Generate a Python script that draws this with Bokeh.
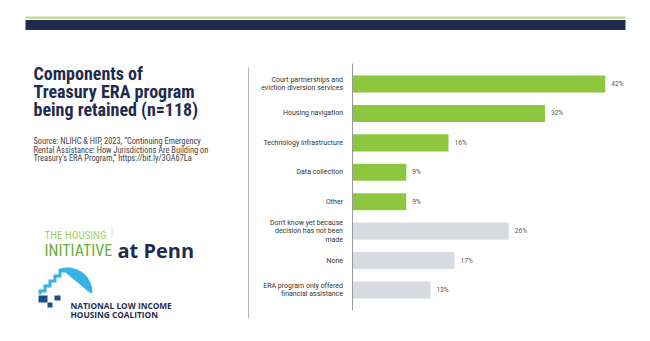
import numpy as np
from bokeh.plotting import figure
from bokeh.models import Range1d, LinearAxis, FixedTicker, ColumnDataSource
from bokeh.core.properties import value
from bokeh.embed import file_html
from bokeh.resources import INLINE

# ---------------- data ----------------
categories = [
    "Court partnerships and\neviction diversion services",
    "Housing navigation",
    "Technology infrastructure",
    "Data collection",
    "Other",
    "Don't know yet because\ndecision has not been\nmade",
    "None",
    "ERA program only offered\nfinancial assistance",
]
values = [42, 32, 16, 9, 9, 26, 17, 13]
groups = ["retained", "retained", "retained", "retained", "retained", "other", "other", "other"]
value_labels = ["42%", "32%", "16%", "9%", "9%", "26%", "17%", "13%"]

title_lines = ["Components of", "Treasury ERA program", "being retained (n=118)"]
source_lines = [
    "Source: NLIHC & HIP, 2023, \u201cContinuing Emergency",
    "Rental Assistance: How Jurisdictions Are Building on",
    "Treasury\u2019s ERA Program,\u201d https://bit.ly/3OA67La",
]

# ---------------- style ----------------
W, H = 650, 341
GREEN = "#8dc63f"
GREY = "#d9dbe2"
NAVY = "#1f2b4e"
NARROW = "'Liberation Sans Narrow', 'Roboto Condensed', 'DejaVu Sans Condensed', sans-serif"
color_map = {"retained": GREEN, "other": GREY}

px_per_pct = 6.03
x0_px = 351.5
band = 29.43
c0 = 83.5

p = figure(
    width=W, height=H,
    x_range=Range1d(-x0_px / px_per_pct, (W - x0_px) / px_per_pct),
    y_range=Range1d((H - c0) / band, -c0 / band),
    x_axis_type=None, y_axis_type=None,
    toolbar_location=None, output_backend="svg",
    min_border=0, outline_line_color=None,
    background_fill_color="white", border_fill_color="white",
)
p.extra_x_ranges = {"px": Range1d(0, W)}
p.extra_y_ranges = {"px": Range1d(H, 0)}

# ---------------- bars ----------------
src = ColumnDataSource(dict(
    y=list(range(len(categories))),
    v=values,
    color=[color_map[g] for g in groups],
    lab=value_labels,
))
p.hbar(y="y", left=0, right="v", height=0.58, fill_color="color",
       line_color=None, source=src)
p.text(x="v", y="y", text="lab", x_offset=6, text_baseline="middle",
       text_font=value("Roboto"), text_font_size="6.6px",
       text_color="#555555", source=src)

ax = LinearAxis(
    fixed_location=0,
    ticker=FixedTicker(ticks=list(range(len(categories)))),
    major_label_overrides={i: c for i, c in enumerate(categories)},
    bounds=(-0.69, len(categories) - 1 + 0.69),
    axis_line_color="#9a9a9a", axis_line_width=1,
    major_tick_line_color=None, minor_tick_line_color=None,
    major_label_standoff=3,
    major_label_text_font="Roboto",
    major_label_text_font_size="7px",
    major_label_text_color="#333333",
    major_label_text_line_height=1.08,
)
p.add_layout(ax, "left")

# ---------------- decorations (pixel space) ----------------
kw = dict(x_range_name="px", y_range_name="px")
p.quad(left=[25], right=[625], top=[16], bottom=[18.3], fill_color="#b9dc8f",
       line_color=None, **kw)
p.quad(left=[25], right=[625], top=[19.5], bottom=[29.5], fill_color=NAVY,
       line_color=None, **kw)
p.segment(x0=[248], y0=[67], x1=[248], y1=[318], line_color="#b5b5b5",
          line_width=1, **kw)

p.text(x=[33] * 3, y=[73, 91, 109], text=title_lines, text_baseline="alphabetic",
       text_font=value(NARROW), text_font_style="bold", text_font_size="18px",
       text_color=NAVY, **kw)
p.text(x=[33] * 3, y=[140.5, 149, 157.5], text=source_lines,
       text_baseline="alphabetic", text_font=value(NARROW),
       text_font_size="8.4px", text_color="#444444", **kw)

# Housing Initiative at Penn logo
p.text(x=[44], y=[235], text=["THE HOUSING"], text_baseline="alphabetic",
       text_font=value(NARROW), text_font_size="11px", text_color="#a3cf66", **kw)
p.text(x=[44], y=[250], text=["INITIATIVE"], text_baseline="alphabetic",
       text_font=value(NARROW), text_font_size="16px", text_color="#67b03a", **kw)
p.segment(x0=[111.5], y0=[226], x1=[111.5], y1=[237], line_color="#d0d0d0",
          line_width=0.8, **kw)
p.text(x=[117], y=[250], text=["at Penn"], text_baseline="alphabetic",
       text_font=value("Open Sans"), text_font_style="bold", text_font_size="20px",
       text_color=NAVY, **kw)

# NLIHC logo
LBLUE = "#36b2e6"
DBLUE = "#1b4f8a"
stairs_x = [38, 38, 43, 43, 48, 48, 53, 53, 58, 58]
stairs_y = [294, 289, 289, 284, 284, 279, 279, 274, 274, 269]
ang = np.linspace(np.deg2rad(112), np.deg2rad(-2), 30)
cx, cy, r = 67, 292, 25
arc_x = list(cx + r * np.cos(ang))
arc_y = list(cy - r * np.sin(ang))
inner_x = [89, 65, 61, 61, 56, 56, 51, 51, 46, 46, 41, 41]
inner_y = [292, 272, 272, 277, 277, 282, 282, 287, 287, 292, 292, 294]
p.patch(stairs_x + arc_x + inner_x, stairs_y + arc_y + inner_y,
        fill_color=LBLUE, line_color=None, **kw)
p.quad(left=[38, 47, 54], right=[47, 52, 60], top=[295, 302, 295],
       bottom=[302, 307, 300], fill_color=DBLUE, line_color=None, **kw)
p.text(x=[70, 70], y=[305, 314], text=["NATIONAL LOW INCOME", "HOUSING COALITION"],
       text_baseline="alphabetic", text_font=value("Open Sans"),
       text_font_style="bold", text_font_size="8.3px", text_color=NAVY, **kw)

open("out.html", "w").write(file_html(p, INLINE))
